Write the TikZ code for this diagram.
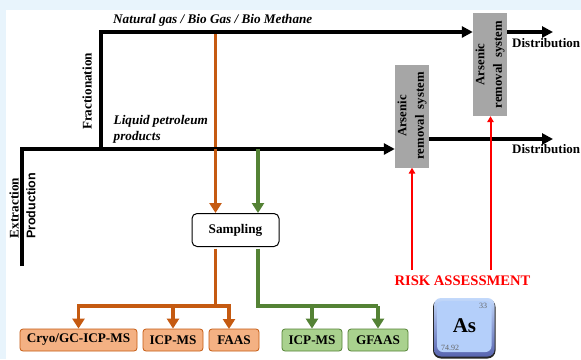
\documentclass[tikz,border=0pt]{standalone}
\usepackage{fontspec}
\setmainfont{Liberation Serif}
\newfontfamily\prodfont{Liberation Sans}
\usetikzlibrary{arrows.meta,shadows}
\definecolor{bgblue}{HTML}{E8F4FC}
\definecolor{orline}{HTML}{C55A11}
\definecolor{grline}{HTML}{548235}
\definecolor{orfill}{HTML}{F4B183}
\definecolor{grfill}{HTML}{A9D18E}
\definecolor{sysgray}{HTML}{A6A6A6}
\definecolor{tile}{HTML}{B4CFFA}
\tikzset{
  x=1pt,y=-1pt,
  lbl/.style={font=\bfseries\fontsize{13.2}{15}\selectfont,inner sep=0pt},
  ilbl/.style={font=\bfseries\itshape\fontsize{13.2}{16}\selectfont,inner sep=0pt,align=left,anchor=west},
  sysbox/.style={fill=sysgray,minimum width=34pt,minimum height=103pt,inner sep=0pt,draw=none},
  systxt/.style={font=\bfseries\fontsize{12.7}{17.5}\selectfont,align=center,rotate=90,inner sep=0pt},
  blk/.style={line width=3.4pt,draw=black},
  blkarrow/.style={blk,-{Triangle[length=11pt,width=11pt]}},
  orarrow/.style={line width=3.8pt,draw=orline,-{Triangle[length=10pt,width=12pt]}},
  grarrow/.style={line width=3.8pt,draw=grline,-{Triangle[length=10pt,width=12pt]}},
  redarrow/.style={line width=2pt,draw=red,-{Triangle[length=6pt,width=6.5pt]}},
  orbox/.style={draw=orline,fill=orfill,line width=.8pt,rounded corners=3pt,minimum height=22pt,inner sep=0pt,font=\bfseries\fontsize{13.2}{15}\selectfont},
  grbox/.style={draw=grline,fill=grfill,line width=.8pt,rounded corners=3pt,minimum height=22pt,minimum width=60pt,inner sep=0pt,font=\bfseries\fontsize{13.2}{15}\selectfont},
}
\begin{document}
\begin{tikzpicture}
\useasboundingbox (0,0) rectangle (581,359);
\fill[bgblue] (0,0) rectangle (581,359);
\fill[white] (6,10) rectangle (581,359);

% named junctions
\coordinate (prodend) at (22,266);
\coordinate (prodcorner) at (22,149);
\coordinate (fracfoot) at (101,149);
\coordinate (fraccorner) at (101,32);
\coordinate (ortop) at (215.5,32);
\coordinate (grtop) at (258,149);
\coordinate (orbranch) at (215.5,306);
\coordinate (grcorner) at (258,306);
\coordinate (riskA) at (412,270);
\coordinate (riskB) at (490.5,270);
\coordinate (dist1) at (553,32);
\coordinate (dist2) at (553,139);

% nodes
\node[sysbox] (sysA) at (412,116) {};
\node[sysbox] (sysB) at (490,64.5) {};
\node[systxt] at (sysA.center) {Arsenic\\removal\ \ system};
\node[systxt] at (sysB.center) {Arsenic\\removal\ \ system};
\node[draw=black,fill=white,line width=1pt,rounded corners=5pt,minimum width=87pt,minimum height=33pt,inner sep=0pt,font=\bfseries\fontsize{13.2}{15}\selectfont] (samp) at (235.5,230) {\raisebox{-1pt}{Sampling}};
\node[orbox,minimum width=117pt] (cryo) at (78.5,340) {\raisebox{-1pt}{Cryo/GC-ICP-MS}};
\node[orbox,minimum width=60pt] (icpA) at (173,340) {\raisebox{-1pt}{ICP-MS}};
\node[orbox,minimum width=50pt] (faas) at (234,340) {\raisebox{-1pt}{FAAS}};
\node[grbox] (icpB) at (312,340) {\raisebox{-1pt}{ICP-MS}};
\node[grbox] (gfaas) at (378,340) {\raisebox{-1pt}{GFAAS}};

% connectors
\draw[orline,line width=3.8pt] (ortop) -- (215.5,149);
\draw[blkarrow,line join=miter] (prodend) -- (prodcorner) -- (sysA.west |- prodcorner);
\draw[blkarrow,line join=miter] (fracfoot) -- (fraccorner) -- (sysB.west |- fraccorner);
\draw[orarrow] (215.5,149) -- (samp.north -| ortop);
\draw[grarrow] (grtop) -- (samp.north -| grtop);
\draw[blkarrow] (sysB.east |- dist1) -- (dist1);
\draw[blkarrow] (sysA.east |- dist2) -- (dist2);

% red
\draw[redarrow] (riskB) -- (sysB.south -| riskB);
\draw[redarrow] (riskA) -- (sysA.south -| riskA);

% orange tree
\draw[orline,line width=3.8pt] ([yshift=-1.5pt]samp.south -| ortop) -- (orbranch);
\draw[orline,line width=3.8pt,line cap=rect] (cryo.north |- orbranch) -- (229,306);
\draw[orarrow] (cryo.north |- orbranch) -- (cryo.north);
\draw[orarrow] (icpA.north |- orbranch) -- (icpA.north);
\draw[orarrow] (229,306) -- (229,329);

% green tree
\draw[grline,line width=3.8pt,line join=miter] ([yshift=-1.5pt]samp.south -| grcorner) -- (grcorner) -- (gfaas.north |- grcorner);
\draw[grarrow] (icpB.north |- grcorner) -- (icpB.north);
\draw[grarrow] (gfaas.north |- grcorner) -- (gfaas.north);

% labels
\node[ilbl] (ngas) at (113,20.5) {Natural gas / Bio Gas / Bio Methane};
\node[ilbl] (liq) at (113.5,129) {Liquid petroleum\\products};
\node[lbl,rotate=90] (frac) at (87,91.5) {Fractionation};
\node[lbl,rotate=90] (extr) at (14,208) {Extraction};
\node[lbl,rotate=90,font=\prodfont\bfseries\fontsize{12.5}{15}\selectfont] (prod) at (31,206) {Production};
\node[lbl,anchor=west,font=\bfseries\fontsize{13}{15}\selectfont] (d1) at (512,43) {Distribution};
\node[lbl,anchor=west,font=\bfseries\fontsize{13}{15}\selectfont] (d2) at (512,149) {Distribution};
\node[lbl,text=red,font=\bfseries\fontsize{14.6}{16}\selectfont] (risk) at (462.5,280.5) {RISK ASSESSMENT};

% element tile
\fill[black!85,rounded corners=8pt] (433,299) rectangle (495.5,358.5);
\shade[top color=tile!80!white,bottom color=tile!70!blue!70!black,rounded corners=7pt] (434,298) rectangle (494.5,356.5);
\fill[tile,rounded corners=6pt] (437,301) rectangle (491.5,352);
\node[inner sep=0pt,font=\bfseries\fontsize{21}{23}\selectfont,text=black] (as) at (464.5,326) {As};
\node[font=\fontsize{8}{9}\selectfont,text=black!60,inner sep=0pt] (num) at (483,306) {33};
\node[font=\fontsize{8}{9}\selectfont,text=black!60,inner sep=0pt] (mass) at (450,348) {74.92};
\end{tikzpicture}
\end{document}
